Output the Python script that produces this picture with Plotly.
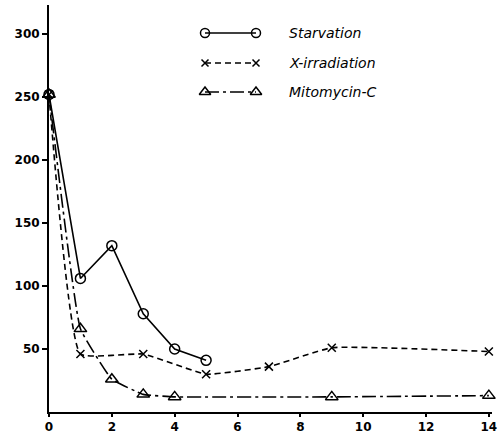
import plotly.graph_objects as go

# ---- data ----
series_names = ["Starvation", "X-irradiation", "Mitomycin-C"]
starv_x = [0, 1, 2, 3, 4, 5]
starv_y = [252, 106, 132, 78, 50, 41]
xirr_x = [0, 1, 3, 5, 7, 9, 14]
xirr_y = [252, 46, 46, 30, 36, 51, 48]
mito_x = [0, 1, 2, 3, 4, 9, 14]
mito_y = [252, 66, 26, 14, 12, 12, 13]
x_ticks = [0, 2, 4, 6, 8, 10, 12, 14]
y_ticks = [50, 100, 150, 200, 250, 300]

INK = "black"
FONT = "DejaVu Sans"

styles = [
    dict(dash="solid", symbol="circle-open", msize=10, shape="linear", sm=0),
    dict(dash="6px,4px", symbol="x-thin-open", msize=8, shape="spline", sm=0.35),
    dict(dash="14px,4px,3px,4px", symbol="triangle-up-open", msize=11, shape="spline", sm=0.3),
]
data = [(starv_x, starv_y), (xirr_x, xirr_y), (mito_x, mito_y)]

fig = go.Figure()
for name, (xs, ys), st in zip(series_names, data, styles):
    fig.add_trace(go.Scatter(
        x=xs, y=ys, mode="lines+markers", name=name, showlegend=False,
        line=dict(color=INK, width=1.6, dash=st["dash"], shape=st["shape"], smoothing=st["sm"]),
        marker=dict(symbol=st["symbol"], size=st["msize"], color=INK,
                    line=dict(color=INK, width=1.5)),
        cliponaxis=False,
    ))

# custom legend (sample line with a marker at both ends), drawn on an overlay axis
leg_rows = [33, 63, 92]
for name, st, yy in zip(series_names, styles, leg_rows):
    fig.add_trace(go.Scatter(
        x=[205, 256], y=[yy, yy], xaxis="x2", yaxis="y2", mode="lines+markers",
        showlegend=False, hoverinfo="skip",
        line=dict(color=INK, width=1.6, dash=st["dash"]),
        marker=dict(symbol=st["symbol"], size=st["msize"] - 1, color=INK,
                    line=dict(color=INK, width=1.5)),
        cliponaxis=False,
    ))
    fig.add_annotation(x=287, y=yy, xref="x2", yref="y2", text=f"<i>{name}</i>",
                       showarrow=False, xanchor="left", yanchor="middle",
                       font=dict(family=FONT, size=14, color=INK))

tickfont = dict(family=FONT, size=12, color=INK, weight="bold")
fig.update_layout(
    width=500, height=434,
    margin=dict(l=49, r=8, t=5, b=22, autoexpand=False),
    paper_bgcolor="white", plot_bgcolor="white",
    font=dict(family=FONT, size=12, color=INK),
    xaxis=dict(range=[0, 14.1], tickvals=x_ticks, ticktext=[str(v) for v in x_ticks],
               showgrid=False, zeroline=False, showline=True, linecolor=INK, linewidth=2,
               ticks="outside", ticklen=3, tickwidth=1.5, tickcolor=INK,
               tickfont=tickfont, automargin=False),
    yaxis=dict(range=[0, 323], tickvals=y_ticks, ticktext=[str(v) for v in y_ticks],
               showgrid=False, zeroline=False, showline=True, linecolor=INK, linewidth=2,
               ticks="outside", ticklen=5, tickwidth=1.5, tickcolor=INK,
               tickfont=tickfont, automargin=False),
    xaxis2=dict(range=[49, 492], overlaying="x", visible=False, fixedrange=True),
    yaxis2=dict(range=[412, 5], overlaying="y", visible=False, fixedrange=True),
)

fig.write_html("out.html", config={"displayModeBar": False},
               post_script="document.body.style.margin='0';document.body.style.padding='0';"
                           "document.body.style.overflow='hidden';")
